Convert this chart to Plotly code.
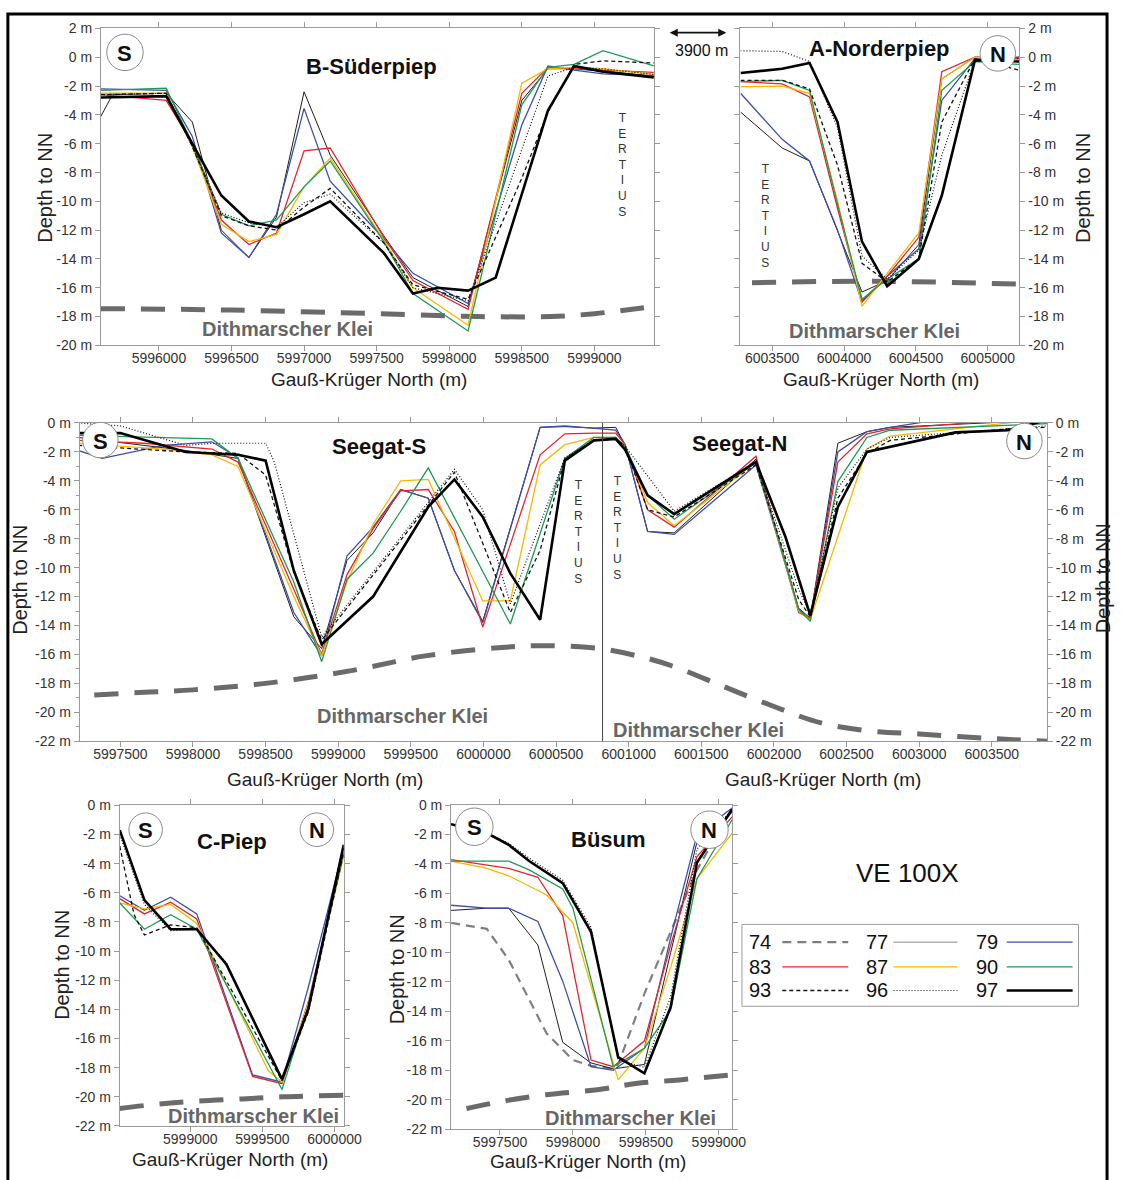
import plotly.graph_objects as go

W, H = 1128, 1180
FONT = "Liberation Sans, Arial, sans-serif"

YEARS = ["74", "77", "79", "83", "87", "90", "93", "96", "97"]

# ---------------- B-Süderpiep ----------------
B_X = [5995600, 5995680, 5996050, 5996230, 5996430, 5996620, 5996810, 5997000, 5997180, 5997550,
       5997750, 5997920, 5998130, 5998320, 5998500, 5998680, 5998860, 5999060, 5999410]
B_77 = [-4.1, -2.6, -2.5, -4.5, -12.0, -13.9, -11.1, -2.4, -6.8, -12.4, -15.3, None, -17.3, None, -3.0, -0.8, -0.8, -1.0, -1.3]
B_79 = [-2.2, None, -2.3, -5.5, -12.2, -13.9, -10.9, -3.55, -8.6, -12.6, -15.0, None, -17.1, None, -4.7, -0.6, -0.9, -1.15, -1.3]
B_83 = [-2.6, None, -3.0, -6.0, -11.3, -13.0, -12.2, -6.5, -6.3, -12.5, -15.5, None, -17.5, None, -2.5, -0.7, -0.8, -0.9, -1.05]
B_87 = [-2.5, None, -2.5, -6.2, -11.6, -12.8, -12.3, -9.0, -7.0, -12.7, -16.0, None, -18.6, None, -1.8, -0.8, -0.7, -0.8, -1.2]
B_90 = [-2.3, None, -2.15, -6.0, -10.9, -11.7, -11.3, -9.0, -7.2, -12.8, -16.4, None, -19.0, None, -3.3, -0.7, -0.5, 0.45, -0.6]
B_93 = [-2.6, None, -2.5, -6.2, -11.0, -11.7, -12.0, -10.4, -9.1, -12.9, -15.8, None, -16.8, None, -8.4, -3.8, -0.5, -0.25, -0.4]
B_96 = [-2.6, None, -2.5, -6.2, -10.8, -11.5, -11.8, -10.1, -9.5, -12.9, -16.0, None, -16.9, None, -6.4, -1.3, -0.7, -0.8, -1.2]
B_97 = [-2.8, None, -2.7, -6.0, -9.6, -11.4, -11.8, -10.9, -10.0, -13.6, -16.4, -16.0, -16.2, -15.3, None, -3.7, -0.6, -1.0, -1.4]
B_KLEI_X = [5995600, 5996500, 5997500, 5998200, 5998700, 5999000, 5999410]
B_KLEI_Y = [-17.45, -17.55, -17.8, -18.0, -18.0, -17.8, -17.3]

# ---------------- A-Norderpiep ----------------
A_X = [6003280, 6003570, 6003760, 6003890, 6003955, 6004125, 6004300, 6004520, 6004680, 6004910, 6005220]
A_77 = [-3.8, -6.3, -7.2, None, None, -16.3, -15.5, -13.0, -1.5, 0.0, 0.0]
A_79 = [-2.5, -5.7, -7.2, None, -12.0, -17.0, -15.2, -13.3, -3.0, -0.1, 0.0]
A_83 = [-1.7, -1.85, -2.75, None, -10.5, -16.9, -15.2, -12.5, -1.0, 0.0, -0.1]
A_87 = [-2.05, -2.0, -2.5, None, -10.0, -17.3, -15.0, -12.2, -1.5, 0.0, -0.2]
A_90 = [-1.7, -1.6, -2.3, None, -10.2, -16.8, -15.4, -14.0, -2.3, -0.3, -0.5]
A_93 = [-1.6, -1.6, -2.2, None, -7.5, -14.3, -15.6, -14.0, -4.5, -0.1, -0.9]
A_96 = [0.45, 0.4, -0.3, None, -4.9, -13.8, -15.4, -13.4, -6.8, -0.2, -0.1]
A_97 = [-1.1, -0.8, -0.4, -3.1, -4.5, -12.8, -15.9, -14.0, -9.6, -0.2, -0.3]
A_KLEI_X = [6003360, 6004200, 6005220]
A_KLEI_Y = [-15.65, -15.55, -15.75]

# ---------------- Seegat-S / Seegat-N ----------------
S_X = [5997210, 5997375, 5997500, 5997660, 5997800, 5997950, 5998130, 5998310, 5998500, 5998560,
       5998694, 5998886, 5999060, 5999240, 5999430, 5999620, 5999800, 5999995, 6000185, 6000390,
       6000560, 6000760, 6000910, 6000975, 6001130, 6001313, 6001675, 6001876, 6002080, 6002170,
       6002250, 6002440, 6002640, 6002800, 6003020, 6003250, 6003610, 6003880]
S_77 = [-1.0, None, None, None, None, -1.9, None, -2.45, None, None,
        -13.4, -15.6, -9.5, -7.6, -4.6, -5.2, -10.2, -13.7, None, -0.3,
        -0.25, -0.35, -0.3, -1.5, -7.5, -7.6, None, -2.5, None, -12.8,
        -13.5, -1.4, -0.6, -0.3, None, None, None, 0.2]
S_79 = [-1.9, -2.45, None, None, -1.55, None, -1.3, -2.4, None, None,
        -13.1, -16.1, -9.2, -7.2, -4.6, -5.2, -10.2, -13.8, None, -0.3,
        -0.2, -0.4, -0.5, -1.5, -7.5, -7.7, None, -2.9, None, -12.9,
        -13.6, -2.0, -0.6, -0.3, 0.05, None, None, 0.27]
S_83 = [-1.2, None, None, -1.4, None, None, -1.8, -2.7, None, None,
        -11.5, -16.0, -10.5, -7.3, -4.7, -4.6, -7.5, -14.1, None, -2.2,
        -0.75, -0.7, -0.7, -1.5, -6.0, -7.2, None, -2.3, None, -13.1,
        -13.5, -2.7, -0.75, -0.4, None, None, None, 0.4]
S_87 = [-1.4, None, None, None, -1.8, None, -2.2, -3.0, None, None,
        -12.0, -16.1, -11.0, -7.0, -4.0, -3.9, None, -12.3, -12.3, -2.9,
        -1.5, -1.0, -1.0, -1.6, -5.5, -7.1, None, -2.7, None, -13.0,
        -13.6, None, -1.8, -0.9, None, None, None, 0.3]
S_90 = [-0.86, None, None, None, None, None, -1.1, -2.45, None, None,
        -11.0, -16.5, -10.8, -9.0, -6.1, -3.1, None, None, -13.9, None,
        -2.45, -1.0, -1.0, -1.6, -5.0, -6.65, None, -2.7, None, -12.9,
        -13.7, -4.05, -1.0, -0.5, None, None, None, -0.05]
S_93 = [-1.55, None, None, None, None, -2.0, None, -2.1, -3.6, None,
        -10.3, -15.0, None, None, None, None, -3.4, None, -13.1, -8.8,
        -2.5, -1.2, -1.1, -1.6, -6.0, -6.5, None, -2.9, None, -12.2,
        -13.4, -5.2, -2.1, -1.2, None, None, -0.4, -0.3]
S_96 = [0.0, None, -0.2, None, None, -1.55, -1.4, None, -1.4, -2.7,
        None, -14.8, None, None, None, None, -3.2, -6.0, -12.5, None,
        -2.4, -1.2, -1.1, -1.6, None, -6.1, None, -2.7, None, -11.5,
        -13.2, -4.5, -1.8, -1.0, None, None, -0.4, -0.2]
S_97 = [-0.7, None, -0.7, None, None, -2.0, None, -2.2, -2.6, None,
        -10.2, -15.3, -13.7, -12.0, -8.9, -5.8, -3.9, -6.5, -10.4, -13.6,
        -2.6, -1.2, -1.1, -1.85, -5.0, -6.3, None, -2.7, -7.9, None,
        -13.3, -5.8, -2.0, None, None, -0.65, -0.5, 0.2]
S_KLEI_X = [5997320, 5997700, 5998000, 5998500, 5999100, 5999600, 6000150, 6000450, 6000800,
            6001100, 6001300, 6001650, 6002000, 6002330, 6002670, 6003000, 6003470, 6003880]
S_KLEI_Y = [-18.8, -18.6, -18.45, -18.0, -17.1, -16.1, -15.5, -15.4, -15.6,
            -16.2, -16.8, -18.2, -19.6, -20.75, -21.3, -21.5, -21.8, -22.0]
S_DIVIDE = 6000820

# ---------------- C-Piep ----------------
C_X = [5998511, 5998545, 5998610, 5998682, 5998864, 5999045, 5999250, 5999432, 5999540, 5999636, 5999818, 6000064]
C_79 = [-6.2, None, None, -7.2, -6.3, -7.45, None, -18.5, None, -19.0, -12.5, -2.9]
C_83 = [-6.4, None, None, -7.45, -6.65, -7.8, None, -18.6, None, -19.1, -13.5, -3.3]
C_87 = [-6.7, None, None, -7.1, -6.8, -8.1, None, None, -18.2, -19.0, -13.6, -3.5]
C_90 = [-6.7, None, None, -8.5, -7.5, -8.5, None, None, None, -19.5, -13.8, -3.3]
C_93 = [-2.8, None, -7.5, -8.9, -8.2, -8.4, None, None, None, -18.9, -14.2, -3.2]
C_96 = [-2.0, None, None, -6.8, -8.6, -8.5, -10.8, None, None, -18.9, -13.8, -3.0]
C_97 = [-1.7, None, None, -6.5, -8.5, -8.5, -10.9, None, None, -18.8, -14.0, -2.7]
C_KLEI_X = [5998511, 5998780, 5999045, 5999360, 5999640, 6000064]
C_KLEI_Y = [-20.8, -20.5, -20.3, -20.15, -20.0, -19.9]

# ---------------- Büsum ----------------
U_X = [5997165, 5997410, 5997560, 5997700, 5997760, 5997820, 5997930, 5998000, 5998124, 5998276,
       5998310, 5998490, 5998670, 5998850, 5999091]
U_74 = [-8.0, -8.4, -10.5, None, None, -15.5, None, -17.3, -17.7, -17.9, -17.6, -12.8, -8.6, -4.4, -0.2]
U_77 = [-7.15, -7.0, -7.0, None, -9.5, None, -16.1, None, -17.5, -17.9, None, -17.6, -10.0, -2.5, -0.5]
U_79 = [-6.8, -7.0, -7.0, None, -7.9, None, -11.95, None, -17.75, -18.0, None, -16.5, -9.0, -2.0, -0.2]
U_83 = [-3.7, -4.1, -4.3, None, -4.9, None, -7.5, None, -17.3, -17.75, None, -16.0, -9.5, -3.5, -0.8]
U_87 = [-3.8, -4.3, -4.8, None, None, -6.1, None, -8.0, None, None, -18.65, -16.5, -11.0, -5.0, -1.9]
U_90 = [-3.8, -3.8, -3.8, -4.4, None, None, -5.7, -7.0, None, -17.75, None, -16.5, -13.9, -5.0, -1.0]
U_96 = [-1.3, -1.9, -2.6, -3.6, None, None, -5.1, None, -8.3, None, -17.3, -17.8, -13.0, -3.0, -0.3]
U_97 = [-1.3, -1.9, -2.7, -3.8, None, None, -5.3, None, -8.6, None, -17.1, -18.2, -13.7, -3.9, -0.3]
U_KLEI_X = [5997270, 5997515, 5997820, 5998180, 5998430, 5998730, 5999091]
U_KLEI_Y = [-20.6, -20.1, -19.65, -19.3, -18.9, -18.65, -18.3]

# ---------------- ticks ----------------
B_XTICKS = [5996000, 5996500, 5997000, 5997500, 5998000, 5998500, 5999000]
A_XTICKS = [6003500, 6004000, 6004500, 6005000]
S_XTICKS = [5997500, 5998000, 5998500, 5999000, 5999500, 6000000, 6000500,
            6001000, 6001500, 6002000, 6002500, 6003000, 6003500]
C_XTICKS = [5999000, 5999500, 6000000]
U_XTICKS = [5997500, 5998000, 5998500, 5999000]
TOP_YTICKS = [2, 0, -2, -4, -6, -8, -10, -12, -14, -16, -18, -20]
LOW_YTICKS = [0, -2, -4, -6, -8, -10, -12, -14, -16, -18, -20, -22]

LINE = {
    "74": dict(color="#7f7f7f", width=2.2, dash="9px,6px"),
    "77": dict(color="#1e1e1e", width=1.0),
    "79": dict(color="#3d4ea6", width=1.3),
    "83": dict(color="#e3262e", width=1.3),
    "87": dict(color="#f6b800", width=1.3),
    "90": dict(color="#1e9a55", width=1.3),
    "93": dict(color="#111111", width=1.3, dash="4px,3px"),
    "96": dict(color="#111111", width=1.2, dash="1px,2px"),
    "97": dict(color="#000000", width=2.6),
}
KLEI_LINE = dict(color="#6b6b6b", width=5, dash="24px,16px", shape="spline")

fig = go.Figure()


def add_klei(xs, ys, xa, ya):
    fig.add_trace(go.Scatter(x=xs, y=ys, xaxis=xa, yaxis=ya, mode="lines", line=KLEI_LINE,
                             showlegend=False, hoverinfo="skip"))


def add_series(xs, series, xa, ya):
    for yr in YEARS:
        if yr in series:
            fig.add_trace(go.Scatter(x=xs, y=series[yr], xaxis=xa, yaxis=ya, mode="lines",
                                     connectgaps=True, line=LINE[yr], showlegend=False,
                                     hoverinfo="skip", name=yr))


add_klei(B_KLEI_X, B_KLEI_Y, "x", "y")
add_series(B_X, {"77": B_77, "79": B_79, "83": B_83, "87": B_87, "90": B_90,
                 "93": B_93, "96": B_96, "97": B_97}, "x", "y")
add_klei(A_KLEI_X, A_KLEI_Y, "x2", "y2")
add_series(A_X, {"77": A_77, "79": A_79, "83": A_83, "87": A_87, "90": A_90,
                 "93": A_93, "96": A_96, "97": A_97}, "x2", "y2")
add_klei(S_KLEI_X, S_KLEI_Y, "x3", "y3")
add_series(S_X, {"77": S_77, "79": S_79, "83": S_83, "87": S_87, "90": S_90,
                 "93": S_93, "96": S_96, "97": S_97}, "x3", "y3")
fig.add_trace(go.Scatter(x=[None], y=[None], xaxis="x3", yaxis="y4", mode="lines",
                         showlegend=False, hoverinfo="skip"))
add_klei(C_KLEI_X, C_KLEI_Y, "x5", "y5")
add_series(C_X, {"79": C_79, "83": C_83, "87": C_87, "90": C_90,
                 "93": C_93, "96": C_96, "97": C_97}, "x5", "y5")
add_klei(U_KLEI_X, U_KLEI_Y, "x6", "y6")
add_series(U_X, {"74": U_74, "77": U_77, "79": U_79, "83": U_83, "87": U_87, "90": U_90,
                 "96": U_96, "97": U_97}, "x6", "y6")


def px(x):
    return x / W


def py(y):
    return 1 - y / H


AX = dict(showline=True, linecolor="#9a9a9a", linewidth=1, mirror="ticks", ticks="outside",
          ticklen=5, tickcolor="#9a9a9a", tickwidth=1, showgrid=False, zeroline=False,
          tickfont=dict(size=14, color="#333333", family=FONT))


def xax(dom, rng, ticks, anchor):
    return dict(AX, domain=[px(dom[0]), px(dom[1])], range=rng, tickmode="array",
                tickvals=ticks, ticktext=[str(t) for t in ticks], anchor=anchor,
                ticklabelstandoff=-5)


def yax(dom, rng, ticks, anchor, side="left", minor=False):
    d = dict(AX, domain=[py(dom[1]), py(dom[0])], range=rng, tickmode="array",
             tickvals=ticks, ticktext=[f"{t} m" for t in ticks], anchor=anchor, side=side)
    if minor:
        d["minor"] = dict(tickmode="array", tickvals=[-v for v in range(1, 22, 2)],
                          ticks="outside", ticklen=3, tickcolor="#9a9a9a")
    return d


fig.update_layout(
    width=W, height=H, margin=dict(l=0, r=0, t=0, b=0),
    paper_bgcolor="white", plot_bgcolor="white",
    font=dict(family=FONT, color="#222222"),
    xaxis=xax((102.5, 664.5), [5995600, 5999410], B_XTICKS, "y"),
    yaxis=yax((20.7, 342), [-20, 2], TOP_YTICKS, "x"),
    xaxis2=xax((752.5, 1036), [6003280, 6005220], A_XTICKS, "y2"),
    yaxis2=yax((20.7, 342), [-20, 2], TOP_YTICKS, "x2", side="right"),
    xaxis3=xax((81, 1064), [5997220, 6003880], S_XTICKS, "y3"),
    yaxis3=yax((420.7, 743.3), [-22, 0], LOW_YTICKS, "x3", minor=True),
    yaxis4=dict(yax((420.7, 743.3), [-22, 0], LOW_YTICKS, "x3", side="right", minor=True),
                overlaying="y3"),
    xaxis5=xax((121.7, 349.3), [5998511, 6000064], C_XTICKS, "y5"),
    yaxis5=yax((808.3, 1133.3), [-22, 0], LOW_YTICKS, "x5"),
    xaxis6=xax((458.4, 744), [5997165, 5999091], U_XTICKS, "y6"),
    yaxis6=yax((808, 1136.7), [-22, 0], LOW_YTICKS, "x6"),
)

shapes = []
annos = []


def text(x, y, s, size, bold=False, color="#111111", angle=0, xanchor="center"):
    annos.append(dict(x=px(x), y=py(y), xref="paper", yref="paper", text=f"<b>{s}</b>" if bold else s,
                      showarrow=False, font=dict(size=size, color=color, family=FONT),
                      textangle=angle, xanchor=xanchor, yanchor="middle"))


# divider between Seegat-S and Seegat-N
shapes.append(dict(type="line", xref="x3", yref="y3 domain", x0=S_DIVIDE, x1=S_DIVIDE, y0=0, y1=1,
                   line=dict(color="#444444", width=1)))

# titles
text(378, 59, "B-Süderpiep", 22, bold=True)
text(894, 41, "A-Norderpiep", 22, bold=True)
text(385, 445, "Seegat-S", 22, bold=True)
text(751, 441, "Seegat-N", 22, bold=True)
text(236, 845, "C-Piep", 22, bold=True)
text(618, 843, "Büsum", 22, bold=True)

# Dithmarscher Klei labels
for (kx, ky) in [(292, 325), (889, 327), (409, 718), (710, 732), (258, 1123), (641, 1125)]:
    text(kx, ky, "Dithmarscher Klei", 20, bold=True, color="#666666")

# TERTIUS
for (tx, ty) in [(633, 159), (778, 211), (588, 531), (628, 527)]:
    text(tx, ty, "T<br>E<br>R<br>T<br>I<br>U<br>S", 12, color="#333333")

# axis titles
for (ax_, ay_) in [(45, 182), (1100, 182), (20, 580), (1121, 578), (63, 970), (403, 975)]:
    text(ax_, ay_, "Depth to NN", 20, angle=-90, color="#222222")
for (gx, gy) in [(375, 377), (895, 377), (330, 782), (836, 782), (234, 1167), (598, 1169)]:
    text(gx, gy, "Gauß-Krüger North (m)", 19, color="#222222")

# S / N circles
for (lab, cx, cy, r) in [("S", 127, 45, 18.5), ("N", 1014, 46, 18), ("S", 102, 438, 18),
                         ("N", 1041, 439, 18), ("S", 148, 833, 17), ("N", 322, 833, 17),
                         ("S", 482, 830, 19), ("N", 721, 833, 19)]:
    shapes.append(dict(type="circle", xref="paper", yref="paper", x0=px(cx - r), x1=px(cx + r),
                       y0=py(cy + r), y1=py(cy - r), fillcolor="white",
                       line=dict(color="#8a8a8a", width=1), layer="above"))
    text(cx, cy + 1, lab, 22, bold=True, color="#111111")

# 3900 m arrow
annos.append(dict(x=px(738), y=py(25), xref="paper", yref="paper", ax=-58, ay=0, text="",
                  showarrow=True, arrowhead=2, arrowside="end+start", arrowsize=1,
                  arrowwidth=1.6, arrowcolor="#111111", standoff=0, startstandoff=0))
text(713, 43, "3900 m", 16)

# VE 100X
text(922, 877, "VE 100X", 26)

# legend
shapes.append(dict(type="rect", xref="paper", yref="paper", x0=px(754), x1=px(1096),
                   y0=py(1012), y1=py(929), fillcolor="white",
                   line=dict(color="#9a9a9a", width=1), layer="above"))
LEG_ROWS = [["74", "77", "79"], ["83", "87", "90"], ["93", "96", "97"]]
LEG_ROW_Y = [947, 972, 996]
LEG_LABEL_X = [759, 878, 990]
LEG_LINE_X = [(795, 862), (908, 973), (1023, 1090)]
for r, row in enumerate(LEG_ROWS):
    for c, yr in enumerate(row):
        ln = dict(LINE[yr])
        if yr == "77":
            ln["color"] = "#8a8a8a"
        shapes.append(dict(type="line", xref="paper", yref="paper",
                           x0=px(LEG_LINE_X[c][0]), x1=px(LEG_LINE_X[c][1]),
                           y0=py(LEG_ROW_Y[r]), y1=py(LEG_ROW_Y[r]), line=ln, layer="above"))
        text(LEG_LABEL_X[c], LEG_ROW_Y[r], yr, 20, xanchor="left")

# outer frame
shapes.append(dict(type="rect", xref="paper", yref="paper", x0=px(8), x1=px(1125),
                   y0=-0.05, y1=py(6), line=dict(color="#000000", width=3), layer="above"))

fig.update_layout(shapes=shapes, annotations=annos)
POST = ("document.documentElement.style.margin='0';document.body.style.margin='0';"
        "document.body.style.padding='0';document.documentElement.style.overflow='hidden';"
        "var gd=document.getElementById('{plot_id}');gd.style.position='absolute';"
        "gd.style.left='0px';gd.style.top='0px';")
fig.write_html("out.html", config={"displayModeBar": False}, post_script=POST)
